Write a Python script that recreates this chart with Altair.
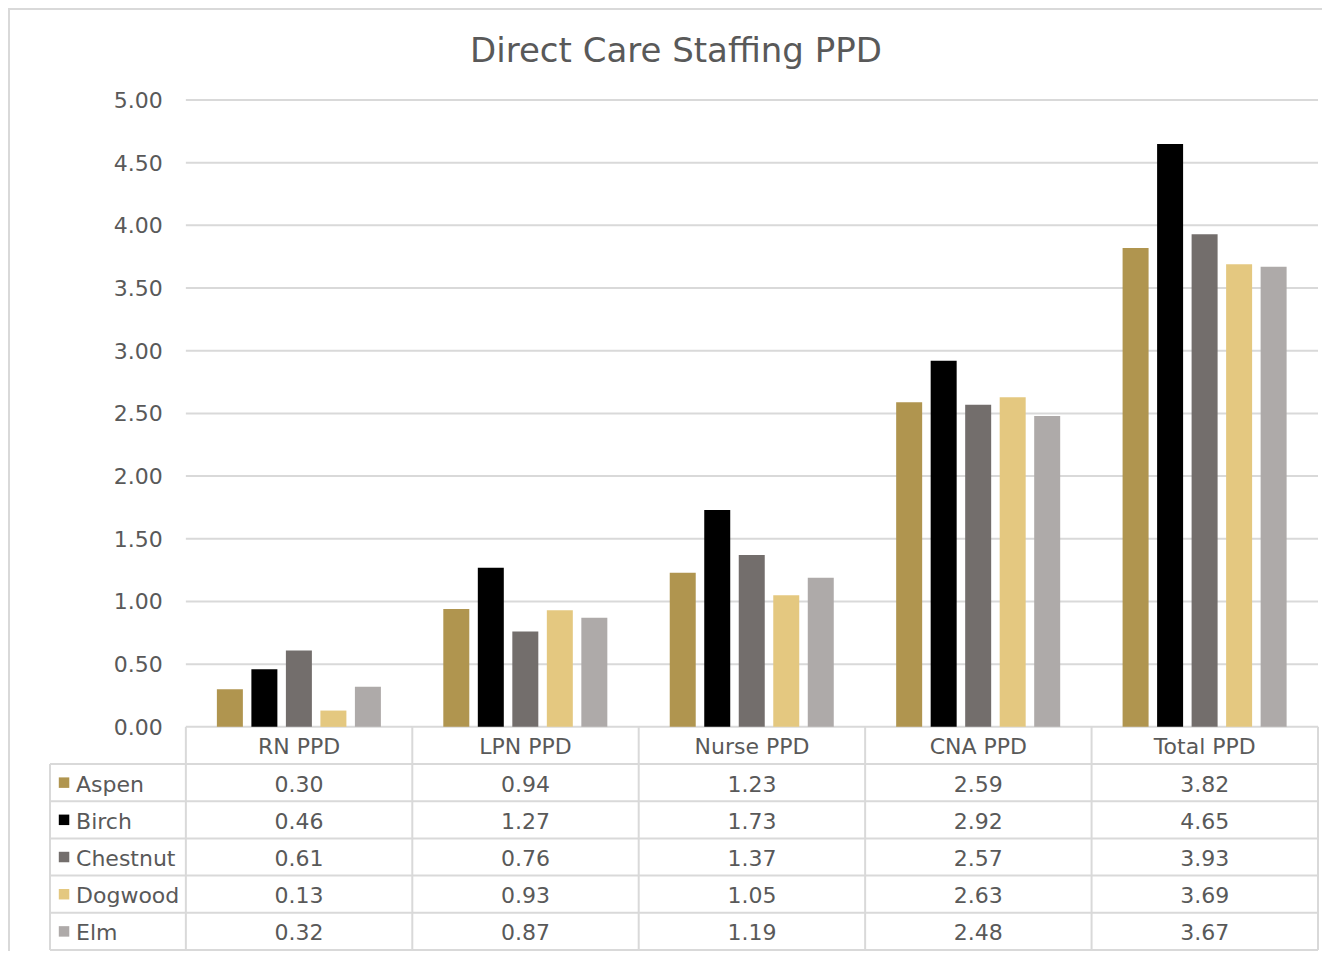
import altair as alt
import pandas as pd

categories = ["RN PPD", "LPN PPD", "Nurse PPD", "CNA PPD", "Total PPD"]
series = ["Aspen", "Birch", "Chestnut", "Dogwood", "Elm"]
aspen = [0.30, 0.94, 1.23, 2.59, 3.82]
birch = [0.46, 1.27, 1.73, 2.92, 4.65]
chestnut = [0.61, 0.76, 1.37, 2.57, 3.93]
dogwood = [0.13, 0.93, 1.05, 2.63, 3.69]
elm = [0.32, 0.87, 1.19, 2.48, 3.67]
colors = ["#B0954F", "#000000", "#736E6C", "#E4C880", "#AEAAA9"]
tick_values = [0.0, 0.5, 1.0, 1.5, 2.0, 2.5, 3.0, 3.5, 4.0, 4.5, 5.0]

values = [aspen, birch, chestnut, dogwood, elm]

FONT = "DejaVu Sans"
TXT = "#595959"
GRID = "#D9D9D9"

# layout constants (data units)
ROW_H = 0.29665
LEG_X0 = -0.6
BAR_PAD = 0.137
BAR_STEP = 0.1524
BAR_W = 0.1148

bars, cells = [], []
for j, s in enumerate(series):
    for i, c in enumerate(categories):
        v = values[j][i]
        x0 = i + BAR_PAD + j * BAR_STEP
        bars.append({"series": s, "cat": c, "value": v, "x0": x0, "x1": x0 + BAR_W})
        cells.append({"label": f"{v:.2f}", "x": i + 0.5, "y": -(j + 1.5) * ROW_H})
bars = pd.DataFrame(bars)
cells = pd.DataFrame(cells)

headers = pd.DataFrame({"label": categories,
                        "x": [i + 0.5 for i in range(len(categories))],
                        "y": [-0.5 * ROW_H] * len(categories)})
legend = pd.DataFrame({"series": series,
                       "xs": [LEG_X0 + 0.062] * len(series),
                       "xl": [LEG_X0 + 0.115] * len(series),
                       "y": [-(j + 1.5) * ROW_H for j in range(len(series))]})
ticks = pd.DataFrame({"v": tick_values, "label": [f"{t:.2f}" for t in tick_values], "x": [0.0] * len(tick_values)})

n = len(categories)
lines = []
for t in tick_values[1:]:
    lines.append({"x": 0, "x2": n, "y": t, "y2": t})
lines.append({"x": 0, "x2": n, "y": 0, "y2": 0})
for k in range(1, len(series) + 2):
    lines.append({"x": LEG_X0, "x2": n, "y": -k * ROW_H, "y2": -k * ROW_H})
lines.append({"x": LEG_X0, "x2": LEG_X0, "y": -ROW_H, "y2": -(len(series) + 1) * ROW_H})
for i in range(n + 1):
    lines.append({"x": i, "x2": i, "y": 0, "y2": -(len(series) + 1) * ROW_H})
lines = pd.DataFrame(lines)

xs = alt.Scale(domain=[LEG_X0, n], nice=False, zero=False)
ys = alt.Scale(domain=[-(len(series) + 1) * ROW_H, 5], nice=False, zero=False)
cs = alt.Scale(domain=series, range=colors)

rules = alt.Chart(lines).mark_rule(color=GRID, strokeWidth=2).encode(
    x=alt.X("x:Q", scale=xs, axis=None), x2="x2:Q",
    y=alt.Y("y:Q", scale=ys, axis=None), y2="y2:Q")

bar = alt.Chart(bars).mark_bar().encode(
    x=alt.X("x0:Q", scale=xs, axis=None), x2="x1:Q",
    y=alt.Y("value:Q", scale=ys, axis=None), y2=alt.datum(0),
    color=alt.Color("series:N", scale=cs, legend=None))

tick_text = alt.Chart(ticks).mark_text(font=FONT, fontSize=22, color=TXT, align="right",
                                       baseline="middle", dx=-23, dy=1).encode(
    x=alt.X("x:Q", scale=xs, axis=None), y=alt.Y("v:Q", scale=ys, axis=None), text="label:N")

cell_text = alt.Chart(cells).mark_text(font=FONT, fontSize=22, color=TXT, align="center",
                                       baseline="middle", dy=2).encode(
    x=alt.X("x:Q", scale=xs, axis=None), y=alt.Y("y:Q", scale=ys, axis=None), text="label:N")

head_text = alt.Chart(headers).mark_text(font=FONT, fontSize=22, color=TXT, align="center",
                                         baseline="middle", dy=2).encode(
    x=alt.X("x:Q", scale=xs, axis=None), y=alt.Y("y:Q", scale=ys, axis=None), text="label:N")

leg_sq = alt.Chart(legend).mark_point(shape="square", filled=True, size=110, opacity=1).encode(
    x=alt.X("xs:Q", scale=xs, axis=None), y=alt.Y("y:Q", scale=ys, axis=None),
    color=alt.Color("series:N", scale=cs, legend=None))

leg_text = alt.Chart(legend).mark_text(font=FONT, fontSize=22, color=TXT, align="left",
                                       baseline="middle", dy=2).encode(
    x=alt.X("xl:Q", scale=xs, axis=None), y=alt.Y("y:Q", scale=ys, axis=None), text="series:N")

title_df = pd.DataFrame({"t": ["Direct Care Staffing PPD"]})
title = alt.Chart(title_df).mark_text(font=FONT, fontSize=34, color=TXT, align="center",
                                      baseline="alphabetic").encode(
    x=alt.value(626), y=alt.value(-38), text="t:N")

frame = alt.Chart(pd.DataFrame({"a": [0]})).mark_rect(fill="transparent", stroke=GRID, strokeWidth=2).encode(
    x=alt.value(-41), x2=alt.value(1320), y=alt.value(-91), y2=alt.value(900))

chart = alt.layer(frame, rules, bar, tick_text, cell_text, head_text, leg_sq, leg_text, title).properties(
    width=1268, height=850,
    padding={"left": 42, "top": 92, "right": 4, "bottom": 1},
    autosize=alt.AutoSizeParams(type="none"),
).configure_view(stroke=None)

chart.save("out.html", embed_options={"renderer": "svg", "actions": False})
